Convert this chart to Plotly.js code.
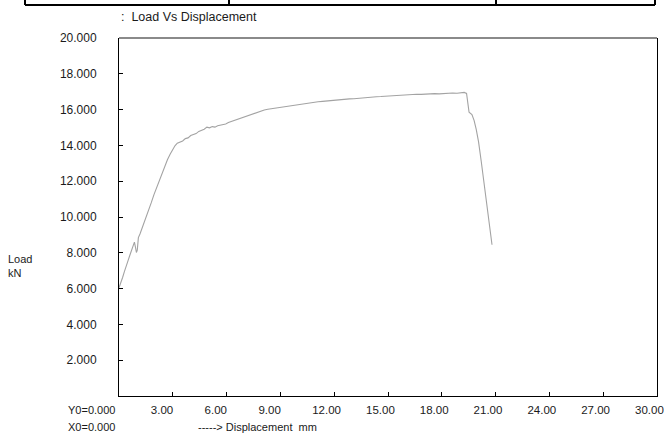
<!DOCTYPE html>
<html>
<head>
<meta charset="utf-8">
<script src="https://cdn.plot.ly/plotly-3.0.1.min.js"></script>
<style>
  html, body { margin: 0; padding: 0; background: #fff; }
  #chart { width: 664px; height: 434px; }
</style>
</head>
<body>
<div id="chart"></div>
<script>
// ---- data ----
const displacementMm = [0.00,0.10,0.20,0.30,0.40,0.50,0.60,0.70,0.80,0.86,0.92,0.97,1.02,1.08,1.17,1.28,1.40,1.52,1.65,1.80,1.95,2.10,2.25,2.40,2.55,2.70,2.85,3.00,3.12,3.25,3.40,3.55,3.70,3.85,4.00,4.15,4.30,4.45,4.60,4.75,4.90,5.05,5.20,5.35,5.50,5.65,5.80,5.95,6.10,6.30,6.50,6.70,6.90,7.10,7.30,7.50,7.70,7.90,8.10,8.30,8.50,8.70,8.90,9.10,9.35,9.60,9.85,10.10,10.35,10.60,10.85,11.10,11.35,11.60,11.85,12.10,12.35,12.60,12.85,13.10,13.35,13.60,13.85,14.10,14.35,14.60,14.85,15.10,15.35,15.60,15.85,16.10,16.35,16.60,16.85,17.10,17.35,17.60,17.85,18.10,18.35,18.60,18.85,19.05,19.25,19.38,19.45,19.52,19.68,19.80,19.92,20.05,20.20,20.35,20.50,20.65,20.80];
const loadKN = [6.05,6.40,6.62,6.95,7.30,7.55,7.85,8.10,8.45,8.60,8.30,8.02,8.15,8.85,9.05,9.35,9.65,9.95,10.35,10.80,11.25,11.65,12.10,12.50,12.85,13.20,13.50,13.80,13.98,14.12,14.18,14.25,14.38,14.42,14.55,14.62,14.66,14.78,14.82,14.90,15.02,14.98,15.05,15.02,15.10,15.12,15.16,15.20,15.28,15.35,15.42,15.50,15.58,15.66,15.72,15.78,15.86,15.90,15.98,16.02,16.05,16.10,16.14,16.15,16.21,16.24,16.28,16.31,16.34,16.38,16.40,16.44,16.46,16.49,16.50,16.53,16.55,16.57,16.60,16.61,16.64,16.65,16.68,16.69,16.72,16.73,16.75,16.77,16.76,16.80,16.81,16.83,16.84,16.86,16.85,16.87,16.86,16.89,16.88,16.91,16.90,16.93,16.91,16.95,16.96,16.90,16.40,15.85,15.72,15.40,14.90,14.20,13.10,12.00,10.80,9.60,8.45];

const xTickVals = [3,6,9,12,15,18,21,24,27,30];
const xTickText = ["3.00","6.00","9.00","12.00","15.00","18.00","21.00","24.00","27.00","30.00"];
const yTickVals = [2,4,6,8,10,12,14,16,18,20];
const yTickText = ["2.000","4.000","6.000","8.000","10.000","12.000","14.000","16.000","18.000","20.000"];

const titleText = ":  Load Vs Displacement";
const yLabelLines = ["Load", "kN"];
const originLabels = ["Y0=0.000", "X0=0.000"];
const xLabelText = "-----> Displacement  mm";

// ---- layout geometry (pixels) ----
const W = 664, H = 434;
const M = { l: 119, r: 7, t: 38, b: 38 };
const pw = W - M.l - M.r, ph = H - M.t - M.b;
const px = x => (x - M.l) / pw;          // pixel x -> paper
const py = y => (H - M.b - y) / ph;      // pixel y -> paper

const FONT = "Liberation Sans, Arial, sans-serif";
const TXT = "#1a1a1a";

const trace = {
  x: displacementMm,
  y: loadKN,
  type: "scatter",
  mode: "lines",
  line: { color: "#a3a3a3", width: 1.1 },
  hoverinfo: "skip"
};

const ann = (text, xpx, ypx, size) => ({
  text, xref: "paper", yref: "paper", x: px(xpx), y: py(ypx),
  xanchor: "left", yanchor: "middle", showarrow: false,
  font: { family: FONT, size: size || 11, color: TXT }
});

const layout = {
  width: W, height: H,
  margin: M,
  paper_bgcolor: "#fff", plot_bgcolor: "#fff",
  showlegend: false,
  font: { family: FONT, size: 11, color: TXT },
  xaxis: {
    range: [0, 30], tickmode: "array", tickvals: xTickVals, ticktext: xTickText,
    ticks: "inside", ticklen: 4, tickcolor: "#000", tickwidth: 1,
    showline: true, linecolor: "#000", linewidth: 1, mirror: false,
    showgrid: false, zeroline: false,
    ticklabelposition: "outside right", ticklabelshift: -23, ticklabelstandoff: 3,
    tickfont: { family: FONT, size: 11.5, color: TXT }, fixedrange: true
  },
  yaxis: {
    range: [0, 20], tickmode: "array", tickvals: yTickVals, ticktext: yTickText,
    ticks: "inside", ticklen: 4, tickcolor: "#000", tickwidth: 1,
    showline: true, linecolor: "#000", linewidth: 1, mirror: true,
    showgrid: false, zeroline: false, ticklabelstandoff: 19,
    tickfont: { family: FONT, size: 12, color: TXT }, fixedrange: true
  },
  shapes: [
    // grey top border of the plot frame
    { type: "line", xref: "paper", yref: "paper", x0: 0, x1: 1, y0: 1, y1: 1,
      line: { color: "#8a8a8a", width: 2 } },
    // table fragment at very top of page
    { type: "line", xref: "paper", yref: "paper", x0: px(25), x1: px(655), y0: py(5), y1: py(5),
      line: { color: "#000", width: 2 } },
    { type: "line", xref: "paper", yref: "paper", x0: px(25), x1: px(25), y0: py(-2), y1: py(5),
      line: { color: "#000", width: 2 } },
    { type: "line", xref: "paper", yref: "paper", x0: px(229), x1: px(229), y0: py(-2), y1: py(5),
      line: { color: "#000", width: 2 } },
    { type: "line", xref: "paper", yref: "paper", x0: px(496), x1: px(496), y0: py(-2), y1: py(5),
      line: { color: "#000", width: 2 } },
    { type: "line", xref: "paper", yref: "paper", x0: px(655), x1: px(655), y0: py(-2), y1: py(5),
      line: { color: "#000", width: 2 } }
  ],
  annotations: [
    ann(titleText, 119, 17, 12.5),
    ann(yLabelLines[0], 6, 259),
    ann(yLabelLines[1], 6, 273),
    ann(originLabels[0], 66, 410),
    ann(originLabels[1], 66, 427),
    ann(xLabelText, 196, 427)
  ]
};

Plotly.newPlot("chart", [trace], layout, { displayModeBar: false, staticPlot: true });
</script>
</body>
</html>
